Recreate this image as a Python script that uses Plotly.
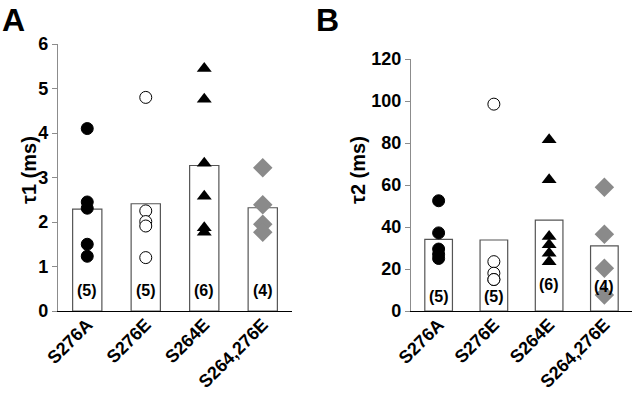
import plotly.graph_objects as go

categories = ["S276A", "S276E", "S264E", "S264,276E"]
n_labels = ["(5)", "(5)", "(6)", "(4)"]

# Panel A: tau1 (ms)
tau1_means = [2.29, 2.41, 3.27, 2.32]
tau1_S276A = [4.1, 2.45, 2.31, 1.5, 1.23]
tau1_S276E = [4.8, 2.25, 2.01, 1.91, 1.2]
tau1_S264E = [5.45, 4.76, 3.32, 2.58, 1.87, 1.77]
tau1_S264_276E = [3.22, 2.39, 1.95, 1.77]

# Panel B: tau2 (ms)
tau2_means = [34.1, 33.8, 43.3, 31.0]
tau2_S276A = [52.5, 37.2, 29.5, 27.0, 25.0]
tau2_S276E = [98.5, 23.5, 18.0, 15.0, 15.0]
tau2_S264E = [81.5, 62.5, 35.5, 31.5, 27.5, 23.5]
tau2_S264_276E = [58.9, 36.5, 20.3, 7.6]

tau1_ticks = [0, 1, 2, 3, 4, 5, 6]
tau2_ticks = [0, 20, 40, 60, 80, 100, 120]

FONT = "Arial, Liberation Sans, sans-serif"
GRAY = "#8c8c8c"

styles = [
    dict(symbol="circle", color="black", line=dict(color="black", width=1), size=12),
    dict(symbol="circle", color="white", line=dict(color="black", width=1), size=12),
    dict(symbol="triangle-up", color="black", line=dict(color="black", width=0), size=13),
    dict(symbol="diamond", color="#8a8a8a", line=dict(color="#8a8a8a", width=0), size=15),
]

fig = go.Figure()

panels = [
    ("x", "y", tau1_means, [tau1_S276A, tau1_S276E, tau1_S264E, tau1_S264_276E]),
    ("x2", "y2", tau2_means, [tau2_S276A, tau2_S276E, tau2_S264E, tau2_S264_276E]),
]

for xa, ya, means, pts in panels:
    fig.add_trace(go.Bar(
        x=categories, y=means, xaxis=xa, yaxis=ya, width=0.5,
        marker=dict(color="white", line=dict(color="#555555", width=1.2)),
        showlegend=False, hoverinfo="skip"))
    for cat, vals, st in zip(categories, pts, styles):
        fig.add_trace(go.Scatter(
            x=[cat] * len(vals), y=vals, xaxis=xa, yaxis=ya, mode="markers",
            marker=st, showlegend=False))

annotations = []
# n labels
label_y_A = [0.45, 0.45, 0.45, 0.45]
label_y_B = [6.8, 6.8, 12.4, 11.6]
for cat, lab, yv in zip(categories, n_labels, label_y_A):
    annotations.append(dict(x=cat, y=yv, xref="x", yref="y", text=lab, showarrow=False,
                            font=dict(family=FONT, size=16, color="black", weight="bold")))
for cat, lab, yv in zip(categories, n_labels, label_y_B):
    annotations.append(dict(x=cat, y=yv, xref="x2", yref="y2", text=lab, showarrow=False,
                            font=dict(family=FONT, size=16, color="black", weight="bold")))

# axis titles
annotations.append(dict(x=16 / 632, y=1 - 170 / 394, xref="paper", yref="paper",
                        text="τ1 (ms)", textangle=-90, showarrow=False,
                        font=dict(family=FONT, size=20, color="black", weight="bold")))
annotations.append(dict(x=358 / 632, y=1 - 170 / 394, xref="paper", yref="paper",
                        text="τ2 (ms)", textangle=-90, showarrow=False,
                        font=dict(family=FONT, size=20, color="black", weight="bold")))
# panel letters
annotations.append(dict(x=0, y=1.0, xref="paper", yref="paper", text="A",
                        xanchor="left", yanchor="top", showarrow=False,
                        font=dict(family=FONT, size=32, color="black", weight="bold")))
annotations.append(dict(x=314 / 632, y=1.0, xref="paper", yref="paper", text="B",
                        xanchor="left", yanchor="top", showarrow=False,
                        font=dict(family=FONT, size=32, color="black", weight="bold")))

xaxis_common = dict(
    type="category", range=[-0.5, 3.5], showline=True, linecolor="black", linewidth=1.2,
    ticks="", tickangle=-45, showgrid=False, zeroline=False, automargin=False,
    ticklabelstandoff=-5,
    tickfont=dict(family=FONT, size=18, color="black", weight="bold"))
yaxis_common = dict(
    showline=True, linecolor=GRAY, linewidth=1.2, ticks="outside", ticklen=5,
    tickcolor=GRAY, showgrid=False, zeroline=False, automargin=False,
    tickfont=dict(family=FONT, size=18, color="black", weight="bold"))

fig.update_layout(
    width=632, height=394, margin=dict(l=0, r=0, t=0, b=0, autoexpand=False),
    plot_bgcolor="white", paper_bgcolor="white", bargap=0.5,
    xaxis=dict(domain=[58 / 632, 292 / 632], anchor="y", **xaxis_common),
    yaxis=dict(domain=[(394 - 311) / 394, (394 - 44) / 394], anchor="x",
               range=[0, 6], tickvals=tau1_ticks, **yaxis_common),
    xaxis2=dict(domain=[411 / 632, 1.0], anchor="y2", **xaxis_common),
    yaxis2=dict(domain=[(394 - 311) / 394, (394 - 59) / 394], anchor="x2",
                range=[0, 120], tickvals=tau2_ticks, **yaxis_common),
    annotations=annotations,
)

fig.write_html("out.html", config={"displayModeBar": False},
               post_script="document.body.style.margin='0';document.body.style.overflow='hidden';")
